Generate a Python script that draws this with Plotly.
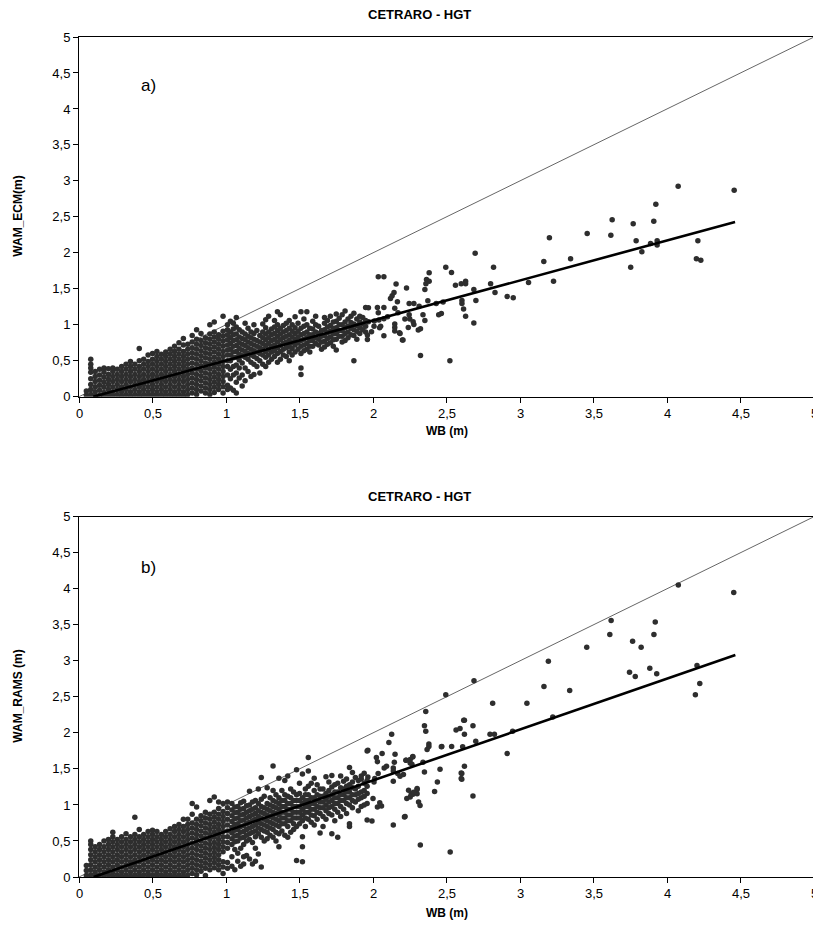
import plotly.graph_objects as go

# ---------------- data ----------------
title_text = "CETRARO - HGT"
x_title = "WB (m)"
y_title_a = "WAM_ECM(m)"
y_title_b = "WAM_RAMS (m)"
tick_vals = [0, 0.5, 1, 1.5, 2, 2.5, 3, 3.5, 4, 4.5, 5]
tick_text = ["0", "0,5", "1", "1,5", "2", "2,5", "3", "3,5", "4", "4,5", "5"]
axis_range = [0, 5]
one_to_one = [0, 5]

# regression lines: (slope, intercept) and x extent
fit_a = (0.5566, -0.054)
fit_x_a = [0.097, 4.463]
fit_b = (0.7056, -0.0706)
fit_x_b = [0.10, 4.465]

# ---- panel a) WB vs WAM_ECM ----
a_sparse = [(4.076, 2.926), (4.457, 2.87), (3.924, 2.676), (3.627, 2.458), (3.77, 2.403), (3.91, 2.44),
            (3.457, 2.268), (3.618, 2.245), (3.2, 2.208), (3.79, 2.167), (3.888, 2.13), (3.933, 2.167),
            (3.933, 2.107), (3.829, 2.014), (4.21, 2.167), (4.2, 1.917), (4.23, 1.898), (3.753, 1.8),
            (3.344, 1.917), (3.162, 1.88), (3.228, 1.606), (3.058, 1.588), (2.82, 1.8), (2.695, 1.995),
            (2.495, 1.8), (2.534, 1.727), (2.382, 1.722), (2.364, 1.63), (2.382, 1.606), (2.36, 1.57),
            (2.353, 1.49), (2.228, 1.51), (2.561, 1.55), (2.6, 1.57), (2.63, 1.606), (2.63, 1.57),
            (2.686, 1.49), (2.8, 1.57), (2.83, 1.449), (2.913, 1.394), (2.954, 1.375), (2.7, 1.338),
            (2.605, 1.338), (2.605, 1.296), (2.616, 1.218), (2.63, 1.12), (2.686, 1.023), (2.523, 0.5),
            (2.323, 0.574), (2.477, 1.315), (2.43, 1.296), (2.373, 1.333), (2.465, 1.157), (2.447, 1.139),
            (2.34, 1.139), (2.353, 1.06), (2.314, 1.259), (2.278, 1.296), (2.246, 1.296), (2.246, 1.139),
            (2.217, 1.079), (2.25, 1.079), (2.273, 1.042), (2.278, 1.005), (2.24, 0.963), (2.308, 0.926),
            (2.323, 0.944), (2.18, 0.889), (2.2, 0.787),
            (2.036, 1.667), (2.074, 1.667), (2.157, 1.565), (1.969, 1.236), (2.03, 1.24), (2.074, 1.24),
            (2.036, 1.167), (2.119, 1.366), (2.13, 1.403), (2.143, 1.449), (2.166, 1.32), (2.148, 1.231),
            (2.17, 1.167), (2.099, 1.111), (2.074, 1.083), (2.04, 1.065), (2.009, 1.051), (1.969, 1.042),
            (2.052, 0.981), (2.007, 0.981), (2.045, 0.958), (1.99, 0.903), (1.962, 0.856), (1.962, 0.796),
            (2.074, 0.847), (2.148, 1.009), (2.148, 0.963), (2.148, 0.912), (2.184, 0.88), (2.204, 0.787)]

a_cols_mid = [
    (1.03, [0.12, 0.25, 0.38, 0.50, 0.58, 0.66, 0.74, 0.82, 0.90, 1.05]),
    (1.07, [0.05, 0.20, 0.33, 0.44, 0.55, 0.63, 0.71, 0.79, 0.87, 0.97, 1.10]),
    (1.11, [0.15, 0.30, 0.47, 0.57, 0.65, 0.73, 0.81, 0.90]),
    (1.15, [0.35, 0.52, 0.60, 0.68, 0.76, 0.84, 0.95]),
    (1.19, [0.31, 0.45, 0.56, 0.64, 0.72, 0.80, 0.88, 1.00]),
    (1.23, [0.33, 0.50, 0.60, 0.68, 0.76, 0.85]),
    (1.27, [0.42, 0.55, 0.63, 0.71, 0.79, 0.87, 0.96, 1.07]),
    (1.31, [0.52, 0.62, 0.70, 0.78, 0.86, 0.94]),
    (1.35, [0.48, 0.60, 0.68, 0.76, 0.84, 0.92, 1.00, 1.18]),
    (1.39, [0.58, 0.66, 0.74, 0.82, 0.90, 0.99]),
    (1.43, [0.50, 0.62, 0.70, 0.78, 0.86, 0.95, 1.06]),
    (1.47, [0.62, 0.72, 0.80, 0.88, 0.96, 1.11]),
    (1.51, [0.31, 0.40, 0.60, 0.70, 0.78, 0.86, 0.95, 1.18]),
    (1.55, [0.66, 0.74, 0.82, 0.90, 1.00, 1.18]),
    (1.59, [0.70, 0.78, 0.86, 0.94, 1.05]),
    (1.63, [0.72, 0.80, 0.88, 0.98]),
    (1.67, [0.69, 0.77, 0.85, 0.93, 1.02, 1.10]),
    (1.71, [0.75, 0.83, 0.91, 0.99, 1.12]),
    (1.75, [0.65, 0.80, 0.88, 0.96, 1.05, 1.15]),
    (1.79, [0.76, 0.84, 0.92, 1.00, 1.14]),
    (1.83, [0.82, 0.90, 0.98, 1.08]),
    (1.87, [0.50, 0.85, 0.93, 1.01, 1.16]),
    (1.91, [0.88, 0.96, 1.04, 1.12]),
    (1.95, [0.90, 0.98, 1.06, 1.24]),
]

a_cols_mid2 = [
    (1.05, [0.09, 0.30, 0.42, 0.54, 0.62, 0.70, 0.78, 0.86, 0.94, 1.02]),
    (1.09, [0.26, 0.40, 0.51, 0.59, 0.67, 0.75, 0.83, 0.93]),
    (1.13, [0.22, 0.40, 0.55, 0.63, 0.71, 0.79, 0.87, 1.02]),
    (1.17, [0.28, 0.48, 0.58, 0.66, 0.74, 0.82, 0.90]),
    (1.21, [0.42, 0.53, 0.62, 0.70, 0.78, 0.92]),
    (1.25, [0.45, 0.58, 0.66, 0.74, 0.82, 0.90, 1.01]),
    (1.29, [0.48, 0.58, 0.66, 0.74, 0.82, 0.90, 1.12]),
    (1.33, [0.56, 0.64, 0.72, 0.80, 0.88, 0.97, 1.06]),
    (1.37, [0.52, 0.63, 0.71, 0.79, 0.87, 0.95, 1.14]),
    (1.41, [0.56, 0.68, 0.76, 0.84, 0.92, 1.02]),
    (1.45, [0.58, 0.67, 0.75, 0.83, 0.91, 1.00]),
    (1.49, [0.66, 0.75, 0.83, 0.91, 1.02]),
    (1.53, [0.64, 0.72, 0.80, 0.88, 0.98, 1.08]),
    (1.57, [0.62, 0.70, 0.78, 0.86, 0.95]),
    (1.61, [0.74, 0.82, 0.90, 1.00, 1.12]),
    (1.65, [0.66, 0.76, 0.84, 0.92]),
    (1.69, [0.73, 0.81, 0.89, 0.97, 1.06]),
    (1.73, [0.70, 0.79, 0.87, 0.95, 1.04]),
    (1.77, [0.84, 0.92, 1.00, 1.09]),
    (1.81, [0.78, 0.88, 0.96, 1.04, 1.19]),
    (1.85, [0.86, 0.95, 1.03, 1.12]),
    (1.89, [0.80, 0.91, 0.99, 1.08]),
    (1.93, [0.93, 1.01, 1.10]),
]

a_cols_low = [
    (0.05, [0.02, 0.08]),
    (0.08, [0.03, 0.10, 0.17, 0.25, 0.34, 0.40, 0.45, 0.52]),
    (0.11, [0.01, 0.07, 0.14, 0.21, 0.28, 0.35]),
    (0.14, [0.02, 0.09, 0.16, 0.23, 0.30, 0.38]),
    (0.17, [0.01, 0.06, 0.13, 0.20, 0.27, 0.34, 0.40]),
    (0.20, [0.03, 0.10, 0.17, 0.24, 0.31, 0.39]),
    (0.23, [0.01, 0.07, 0.14, 0.21, 0.28, 0.35, 0.40]),
    (0.26, [0.03, 0.10, 0.17, 0.24, 0.31, 0.38]),
    (0.29, [0.01, 0.07, 0.14, 0.21, 0.28, 0.35, 0.42]),
    (0.32, [0.03, 0.10, 0.17, 0.24, 0.31, 0.38, 0.45]),
    (0.35, [0.01, 0.07, 0.14, 0.21, 0.28, 0.35, 0.42, 0.49]),
    (0.38, [0.03, 0.10, 0.17, 0.24, 0.31, 0.38, 0.45]),
    (0.41, [0.01, 0.07, 0.14, 0.21, 0.28, 0.35, 0.42, 0.50, 0.67]),
    (0.44, [0.03, 0.10, 0.17, 0.24, 0.31, 0.38, 0.45, 0.52]),
    (0.47, [0.01, 0.07, 0.14, 0.21, 0.28, 0.35, 0.42, 0.49, 0.58]),
    (0.50, [0.03, 0.10, 0.17, 0.24, 0.31, 0.38, 0.45, 0.52, 0.60]),
    (0.53, [0.01, 0.07, 0.14, 0.21, 0.28, 0.35, 0.42, 0.49, 0.56, 0.63]),
    (0.56, [0.03, 0.10, 0.17, 0.24, 0.31, 0.38, 0.45, 0.52, 0.59]),
    (0.59, [0.01, 0.07, 0.14, 0.21, 0.28, 0.35, 0.42, 0.49, 0.56, 0.62]),
    (0.62, [0.03, 0.10, 0.17, 0.24, 0.31, 0.38, 0.45, 0.52, 0.59, 0.66]),
    (0.65, [0.01, 0.07, 0.14, 0.21, 0.28, 0.35, 0.42, 0.49, 0.56, 0.63, 0.70]),
    (0.68, [0.03, 0.10, 0.17, 0.24, 0.31, 0.38, 0.45, 0.52, 0.59, 0.66, 0.75]),
    (0.71, [0.01, 0.07, 0.14, 0.21, 0.28, 0.35, 0.42, 0.49, 0.56, 0.63, 0.72, 0.81]),
    (0.74, [0.03, 0.10, 0.17, 0.24, 0.31, 0.38, 0.45, 0.52, 0.59, 0.66, 0.73]),
    (0.77, [0.05, 0.12, 0.19, 0.26, 0.33, 0.40, 0.47, 0.54, 0.61, 0.68, 0.76, 0.85]),
    (0.80, [0.03, 0.10, 0.17, 0.24, 0.31, 0.38, 0.45, 0.52, 0.59, 0.66, 0.73, 0.80, 0.93]),
    (0.83, [0.08, 0.15, 0.22, 0.29, 0.36, 0.43, 0.50, 0.57, 0.64, 0.71, 0.78, 0.88]),
    (0.86, [0.05, 0.12, 0.19, 0.26, 0.33, 0.40, 0.47, 0.54, 0.61, 0.68, 0.75, 0.82]),
    (0.89, [0.03, 0.10, 0.17, 0.24, 0.31, 0.38, 0.45, 0.52, 0.59, 0.66, 0.73, 0.80, 0.87, 1.00]),
    (0.92, [0.06, 0.13, 0.20, 0.27, 0.34, 0.41, 0.48, 0.55, 0.62, 0.69, 0.76, 0.83, 0.90, 1.04]),
    (0.95, [0.10, 0.17, 0.24, 0.31, 0.38, 0.45, 0.52, 0.59, 0.66, 0.73, 0.80, 0.86]),
    (0.98, [0.05, 0.14, 0.21, 0.28, 0.35, 0.42, 0.49, 0.56, 0.63, 0.70, 0.77, 0.84, 0.91, 1.12]),
    (1.01, [0.10, 0.16, 0.30, 0.42, 0.50, 0.58, 0.65, 0.72, 0.79, 0.86, 0.93, 1.00]),
]

# ---- panel b) WB vs WAM_RAMS ----
b_sparse = [(4.454, 3.949), (4.077, 4.051), (3.62, 3.56), (3.611, 3.366), (3.92, 3.54), (3.911, 3.366),
            (3.766, 3.27), (3.824, 3.19), (3.454, 3.19), (3.193, 2.995), (3.745, 2.843), (3.784, 2.782),
            (3.883, 2.898), (3.93, 2.82), (4.204, 2.935), (4.223, 2.685), (4.193, 2.528), (3.163, 2.644),
            (3.338, 2.588), (3.047, 2.412), (2.814, 2.412), (3.223, 2.222), (2.95, 2.023), (2.913, 1.713),
            (2.687, 2.722), (2.495, 2.528), (2.359, 2.296), (2.35, 2.1), (2.359, 2.023), (2.622, 2.176),
            (2.68, 2.1), (2.565, 2.04), (2.592, 2.06), (2.622, 1.98), (2.796, 1.98), (2.826, 1.98),
            (2.699, 1.884), (2.38, 1.847), (2.368, 1.77), (2.38, 1.81), (2.468, 1.81), (2.535, 1.81),
            (2.61, 1.806), (2.271, 1.671), (2.225, 1.62), (2.253, 1.583), (2.34, 1.593), (2.207, 1.421),
            (2.35, 1.458), (2.456, 1.495), (2.622, 1.537), (2.604, 1.435), (2.604, 1.356), (2.438, 1.32),
            (2.419, 1.185), (2.68, 1.125), (2.3, 1.213), (2.242, 1.204), (2.272, 1.148), (2.23, 1.088),
            (2.253, 1.111), (2.3, 1.157), (2.31, 1.042), (2.32, 0.991), (2.218, 0.838), (2.322, 0.444),
            (2.525, 0.347),
            (2.127, 1.98), (2.108, 1.866), (2.023, 1.657), (2.03, 1.6), (2.062, 1.713), (2.076, 1.514),
            (2.092, 1.537), (2.15, 1.704), (2.145, 1.593), (2.138, 1.514), (2.138, 1.472), (2.035, 1.435),
            (1.965, 1.76), (1.965, 1.389), (2.012, 1.366), (2.007, 1.32), (2.168, 1.435), (2.184, 1.398),
            (2.138, 1.329), (2.224, 1.62), (2.253, 1.63), (2.27, 1.667), (2.265, 1.565), (2.0, 1.088),
            (2.03, 0.972), (2.058, 0.986), (2.046, 1.032), (1.993, 0.778), (2.138, 0.722), (2.214, 0.833),
            (2.26, 1.148), (2.276, 1.176), (2.3, 1.227), (2.6, 1.444), (2.6, 1.366), (2.465, 1.806),
            (2.617, 2.176)]

b_cols_mid = [
    (1.04, [0.15, 0.28, 0.45, 0.53, 0.61, 0.69, 0.77, 0.85, 0.93, 1.02]),
    (1.08, [0.22, 0.33, 0.50, 0.58, 0.66, 0.74, 0.82, 0.90, 0.98]),
    (1.12, [0.18, 0.28, 0.45, 0.55, 0.63, 0.71, 0.79, 0.87, 0.95, 1.05]),
    (1.16, [0.25, 0.52, 0.60, 0.68, 0.76, 0.84, 0.92, 1.00, 1.19]),
    (1.20, [0.22, 0.40, 0.56, 0.64, 0.72, 0.80, 0.88, 0.96, 1.06]),
    (1.24, [0.14, 0.55, 0.66, 0.74, 0.82, 0.90, 0.98, 1.08, 1.38]),
    (1.28, [0.53, 0.62, 0.70, 0.78, 0.86, 0.94, 1.02, 1.24]),
    (1.32, [0.55, 0.66, 0.74, 0.82, 0.90, 0.98, 1.06, 1.20, 1.54]),
    (1.36, [0.42, 0.60, 0.70, 0.78, 0.86, 0.94, 1.02, 1.10, 1.37]),
    (1.40, [0.58, 0.74, 0.82, 0.90, 0.98, 1.06, 1.14, 1.34]),
    (1.44, [0.62, 0.78, 0.86, 0.94, 1.02, 1.10, 1.22]),
    (1.48, [0.23, 0.70, 0.82, 0.90, 0.98, 1.06, 1.14, 1.49]),
    (1.52, [0.21, 0.42, 0.56, 0.78, 0.86, 0.94, 1.02, 1.10, 1.43]),
    (1.56, [0.80, 0.90, 0.98, 1.06, 1.14, 1.26, 1.47, 1.66]),
    (1.60, [0.72, 0.85, 0.94, 1.02, 1.10, 1.20, 1.37]),
    (1.64, [0.61, 0.88, 0.96, 1.04, 1.12, 1.22]),
    (1.68, [0.80, 0.92, 1.00, 1.08, 1.16, 1.39]),
    (1.72, [0.60, 0.86, 0.98, 1.06, 1.14, 1.25, 1.41]),
    (1.76, [0.55, 0.90, 1.02, 1.10, 1.18, 1.30]),
    (1.80, [0.94, 1.06, 1.14, 1.22, 1.33]),
    (1.84, [0.70, 0.74, 1.00, 1.10, 1.18, 1.28, 1.52]),
    (1.88, [1.04, 1.14, 1.22, 1.38]),
    (1.92, [0.98, 1.10, 1.18, 1.36, 1.40]),
    (1.96, [0.79, 1.02, 1.16, 1.26, 1.34, 1.75]),
]

b_cols_mid2 = [
    (1.06, [0.10, 0.38, 0.49, 0.57, 0.65, 0.73, 0.81, 0.89, 0.97]),
    (1.10, [0.15, 0.40, 0.54, 0.62, 0.70, 0.78, 0.86, 0.94, 1.03]),
    (1.14, [0.30, 0.50, 0.58, 0.66, 0.74, 0.82, 0.90, 0.99]),
    (1.18, [0.18, 0.48, 0.62, 0.70, 0.78, 0.86, 0.94, 1.04]),
    (1.22, [0.32, 0.60, 0.68, 0.76, 0.84, 0.92, 1.02, 1.22]),
    (1.26, [0.50, 0.64, 0.72, 0.80, 0.88, 0.96, 1.12]),
    (1.30, [0.58, 0.68, 0.76, 0.84, 0.92, 1.00, 1.10]),
    (1.34, [0.50, 0.62, 0.72, 0.80, 0.88, 0.96, 1.04, 1.14]),
    (1.38, [0.64, 0.74, 0.82, 0.90, 0.98, 1.06, 1.20]),
    (1.42, [0.55, 0.70, 0.78, 0.86, 0.94, 1.02, 1.12, 1.40]),
    (1.46, [0.66, 0.74, 0.82, 0.90, 0.98, 1.06, 1.18]),
    (1.50, [0.74, 0.82, 0.90, 0.98, 1.06, 1.16, 1.30]),
    (1.54, [0.70, 0.82, 0.90, 0.98, 1.06, 1.14, 1.22]),
    (1.58, [0.76, 0.86, 0.94, 1.02, 1.10, 1.30]),
    (1.62, [0.80, 0.90, 0.98, 1.06, 1.14, 1.28]),
    (1.66, [0.70, 0.84, 0.96, 1.04, 1.12, 1.22]),
    (1.70, [0.88, 0.96, 1.04, 1.12, 1.20, 1.32]),
    (1.74, [0.78, 0.94, 1.02, 1.10, 1.18, 1.28]),
    (1.78, [0.84, 0.98, 1.06, 1.14, 1.24, 1.40]),
    (1.82, [0.88, 1.02, 1.10, 1.18, 1.26, 1.36]),
    (1.86, [0.96, 1.06, 1.14, 1.24, 1.32, 1.45]),
    (1.90, [0.92, 1.08, 1.16, 1.26, 1.34]),
    (1.94, [1.00, 1.12, 1.20, 1.30, 1.44]),
]

b_cols_low = [
    (0.05, [0.02, 0.09, 0.16]),
    (0.08, [0.03, 0.10, 0.17, 0.24, 0.31, 0.38, 0.45, 0.50]),
    (0.11, [0.01, 0.07, 0.14, 0.21, 0.28, 0.35, 0.42]),
    (0.14, [0.03, 0.10, 0.17, 0.24, 0.31, 0.38, 0.45]),
    (0.17, [0.01, 0.07, 0.14, 0.21, 0.28, 0.35, 0.42, 0.50]),
    (0.20, [0.03, 0.10, 0.17, 0.24, 0.31, 0.38, 0.45, 0.52]),
    (0.23, [0.01, 0.07, 0.14, 0.21, 0.28, 0.35, 0.42, 0.49, 0.56, 0.62]),
    (0.26, [0.03, 0.10, 0.17, 0.24, 0.31, 0.38, 0.45, 0.52]),
    (0.29, [0.01, 0.07, 0.14, 0.21, 0.28, 0.35, 0.42, 0.49, 0.56]),
    (0.32, [0.03, 0.10, 0.17, 0.24, 0.31, 0.38, 0.45, 0.52, 0.60]),
    (0.35, [0.01, 0.07, 0.14, 0.21, 0.28, 0.35, 0.42, 0.49, 0.56]),
    (0.38, [0.03, 0.10, 0.17, 0.24, 0.31, 0.38, 0.45, 0.52, 0.59, 0.83]),
    (0.41, [0.01, 0.07, 0.14, 0.21, 0.28, 0.35, 0.42, 0.49, 0.56, 0.66]),
    (0.44, [0.03, 0.10, 0.17, 0.24, 0.31, 0.38, 0.45, 0.52, 0.59]),
    (0.47, [0.01, 0.07, 0.14, 0.21, 0.28, 0.35, 0.42, 0.49, 0.56, 0.63]),
    (0.50, [0.03, 0.10, 0.17, 0.24, 0.31, 0.38, 0.45, 0.52, 0.59, 0.65]),
    (0.53, [0.01, 0.07, 0.14, 0.21, 0.28, 0.35, 0.42, 0.49, 0.56, 0.63]),
    (0.56, [0.03, 0.10, 0.17, 0.24, 0.31, 0.38, 0.45, 0.52, 0.59]),
    (0.59, [0.01, 0.07, 0.14, 0.21, 0.28, 0.35, 0.42, 0.49, 0.56, 0.63]),
    (0.62, [0.03, 0.10, 0.17, 0.24, 0.31, 0.38, 0.45, 0.52, 0.59, 0.67]),
    (0.65, [0.01, 0.07, 0.14, 0.21, 0.28, 0.35, 0.42, 0.49, 0.56, 0.63, 0.70]),
    (0.68, [0.03, 0.10, 0.17, 0.24, 0.31, 0.38, 0.45, 0.52, 0.59, 0.66, 0.73]),
    (0.71, [0.01, 0.07, 0.14, 0.21, 0.28, 0.35, 0.42, 0.49, 0.56, 0.63, 0.70, 0.80]),
    (0.74, [0.03, 0.10, 0.17, 0.24, 0.31, 0.38, 0.45, 0.52, 0.59, 0.66, 0.73, 0.80]),
    (0.77, [0.05, 0.12, 0.19, 0.26, 0.33, 0.40, 0.47, 0.54, 0.61, 0.68, 0.75, 0.87, 1.02]),
    (0.80, [0.03, 0.10, 0.17, 0.24, 0.31, 0.38, 0.45, 0.52, 0.59, 0.66, 0.73, 0.80, 0.97]),
    (0.83, [0.08, 0.15, 0.22, 0.29, 0.36, 0.43, 0.50, 0.57, 0.64, 0.71, 0.78, 0.85]),
    (0.86, [0.02, 0.12, 0.19, 0.26, 0.33, 0.40, 0.47, 0.54, 0.61, 0.68, 0.75, 0.82, 0.90]),
    (0.89, [0.10, 0.17, 0.24, 0.31, 0.38, 0.45, 0.52, 0.59, 0.66, 0.73, 0.80, 0.87, 1.06]),
    (0.92, [0.13, 0.20, 0.27, 0.34, 0.41, 0.48, 0.55, 0.62, 0.69, 0.76, 0.83, 0.90, 1.11]),
    (0.95, [0.10, 0.17, 0.24, 0.31, 0.38, 0.45, 0.52, 0.59, 0.66, 0.73, 0.80, 0.87, 0.95, 1.04]),
    (0.98, [0.05, 0.14, 0.21, 0.35, 0.42, 0.49, 0.56, 0.63, 0.70, 0.77, 0.84, 0.91, 1.02]),
    (1.01, [0.12, 0.20, 0.40, 0.48, 0.56, 0.64, 0.72, 0.80, 0.88, 0.96, 1.04]),
]


def gather(pairs, *col_groups):
    xs = [p[0] for p in pairs]
    ys = [p[1] for p in pairs]
    for cols in col_groups:
        for x, yl in cols:
            for y in yl:
                xs.append(x)
                ys.append(y)
    return xs, ys


wb_a, ecm_a = gather(a_sparse, a_cols_mid, a_cols_mid2, a_cols_low)
wb_b, rams_b = gather(b_sparse, b_cols_mid, b_cols_mid2, b_cols_low)

# ---------------- figure ----------------
# the page body has an 8px default margin, so the figure is sized to fit the
# 821x949 window and all screen positions below are corrected by OFF.
OFF = 8
W, H = 813, 933
ML, MR, MT, MB = 71, 7, 29, 64
PH = H - MT - MB  # plot-area height in px (840)
PW = W - ML - MR  # plot-area width in px (735)


def py(pix):  # screen pixel row -> paper y
    return (H - MB - (pix - OFF)) / PH


def px(pix):  # screen pixel col -> paper x
    return (pix - OFF - ML) / PW


FONT = "Liberation Sans, Arial, sans-serif"
DOT = "#2e2e2e"

fig = go.Figure()
panels = [
    (wb_a, ecm_a, fit_a, fit_x_a, "x", "y"),
    (wb_b, rams_b, fit_b, fit_x_b, "x2", "y2"),
]
for xs, ys, fit, fx, xa, ya in panels:
    fig.add_trace(go.Scatter(x=one_to_one, y=one_to_one, mode="lines",
                             line=dict(color="#555555", width=0.9),
                             xaxis=xa, yaxis=ya, showlegend=False, hoverinfo="skip"))
    fig.add_trace(go.Scatter(x=xs, y=ys, mode="markers",
                             marker=dict(color=DOT, size=5.5, line=dict(width=0)),
                             xaxis=xa, yaxis=ya, showlegend=False))
    fig.add_trace(go.Scatter(x=fx, y=[fit[0] * v + fit[1] for v in fx], mode="lines",
                             line=dict(color="black", width=2.6),
                             xaxis=xa, yaxis=ya, showlegend=False, hoverinfo="skip"))

axis_common = dict(range=axis_range, tickvals=tick_vals, ticktext=tick_text,
                   ticks="outside", ticklen=5, tickwidth=1, tickcolor="black",
                   showline=True, linecolor="black", linewidth=1, mirror=True,
                   showgrid=False, zeroline=False,
                   tickfont=dict(family=FONT, size=13, color="black"))

top_dom = [py(396.7), 1.0]
bot_dom = [0.0, py(516.7)]

fig.update_layout(
    width=W, height=H,
    margin=dict(l=ML, r=MR, t=MT, b=MB),
    paper_bgcolor="white", plot_bgcolor="white",
    xaxis=dict(domain=[0, 1], anchor="y", showticklabels=False, **axis_common),
    yaxis=dict(domain=top_dom, anchor="x", **axis_common),
    xaxis2=dict(domain=[0, 1], anchor="y2", showticklabels=False, **axis_common),
    yaxis2=dict(domain=bot_dom, anchor="x2", **axis_common),
)

span = axis_range[1] - axis_range[0]
ann = []
for ty, axis_y, xt_y, yt_y, ytxt in [(14, 396.7, 431, 216.7, y_title_a),
                                      (496, 876.7, 913, 696.7, y_title_b)]:
    ann.append(dict(text="<b>" + title_text + "</b>", xref="paper", yref="paper",
                    x=px(419), y=py(ty), showarrow=False, xanchor="center", yanchor="middle",
                    font=dict(family=FONT, size=13, color="black")))
    ann.append(dict(text="<b>" + x_title + "</b>", xref="paper", yref="paper",
                    x=px(446.5), y=py(xt_y), showarrow=False, xanchor="center", yanchor="middle",
                    font=dict(family=FONT, size=12, color="black")))
    ann.append(dict(text="<b>" + ytxt + "</b>", xref="paper", yref="paper",
                    x=px(18), y=py(yt_y), showarrow=False, xanchor="center", yanchor="middle",
                    textangle=-90, font=dict(family=FONT, size=12, color="black")))
    for tv, tt in zip(tick_vals, tick_text):
        frac = (tv - axis_range[0]) / span
        ann.append(dict(text=tt, xref="paper", yref="paper", x=frac, y=py(axis_y + 17),
                        showarrow=False, xanchor="center", yanchor="middle", borderpad=0,
                        font=dict(family=FONT, size=13, color="black")))

ann.append(dict(text="a)", xref="x", yref="y", x=0.47, y=4.33, showarrow=False,
                font=dict(family=FONT, size=17, color="black")))
ann.append(dict(text="b)", xref="x2", yref="y2", x=0.47, y=4.3, showarrow=False,
                font=dict(family=FONT, size=17, color="black")))
fig.update_layout(annotations=ann)

fig.write_html("out.html")
